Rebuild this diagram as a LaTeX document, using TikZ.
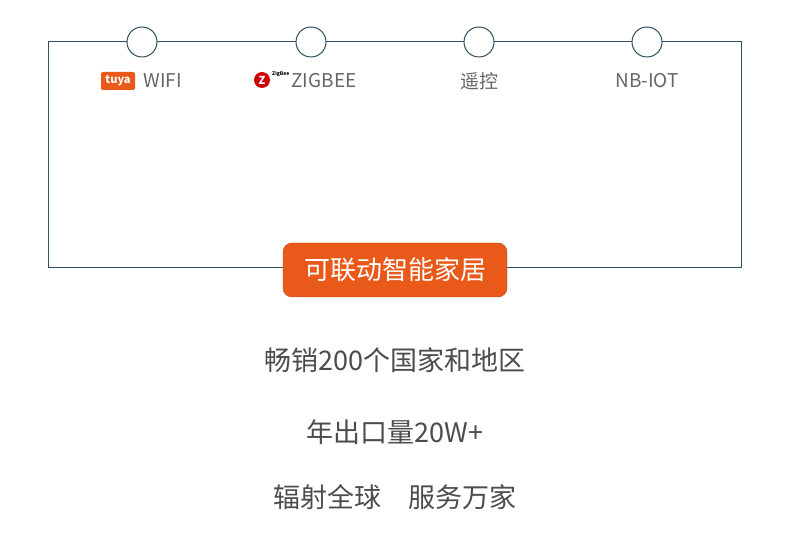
\documentclass[tikz,border=0pt]{standalone}
\usepackage{fontspec}
\setmainfont{Noto Sans CJK SC}
\definecolor{fr}{HTML}{2F4F63}
\definecolor{og}{HTML}{E8591A}
\begin{document}
\begin{tikzpicture}[x=1pt,y=-1pt,
  frame/.style={draw=fr,line width=1pt},
  dot/.style={circle,draw=fr,line width=1pt,fill=white,minimum size=30pt,inner sep=0},
  lab/.style={text=black!60,font=\fontsize{19}{22}\selectfont},
  big/.style={text=black!70,font=\fontsize{27}{32}\selectfont}]
\useasboundingbox (0,0) rectangle (790,553);
\draw[frame] (48,42) rectangle (741,268);
\node[dot] (c1) at (142,42) {};
\node[dot] (c2) at (311,42) {};
\node[dot] (c3) at (479,42) {};
\node[dot] (c4) at (647,42) {};
\node[rounded corners=9pt,fill=og,draw=og!80!black,minimum width=224pt,minimum height=54pt,text=white,font=\fontsize{26}{30}\selectfont] (m) at (395,270) {可联动智能家居};
\node[fill=og,rounded corners=2pt,text=white,font=\bfseries\fontsize{11}{12}\selectfont,inner sep=2pt,minimum width=34pt,minimum height=18pt] (tuya) at (118,81) {tuya};
\node[lab,anchor=west] (w) at (140,81) {WIFI};
\node[circle,fill=red!80!black,minimum size=16pt,inner sep=0,text=white,font=\bfseries\fontsize{11}{11}\selectfont] (z) at (262,80) {Z};
\node[font=\bfseries\fontsize{5}{5}\selectfont,anchor=west,inner sep=0] (zt) at (272,74) {ZigBee};
\node[lab,anchor=west] (zg) at (288,81) {ZIGBEE};
\node[lab] (r) at (479,81) {遥控};
\node[lab] (nb) at (647,81) {NB-IOT};
\node[big] (t1) at (395,360) {畅销200个国家和地区};
\node[big] (t2) at (395,432) {年出口量20W+};
\node[big] (t3) at (395,497) {辐射全球\quad 服务万家};
\end{tikzpicture}
\end{document}
